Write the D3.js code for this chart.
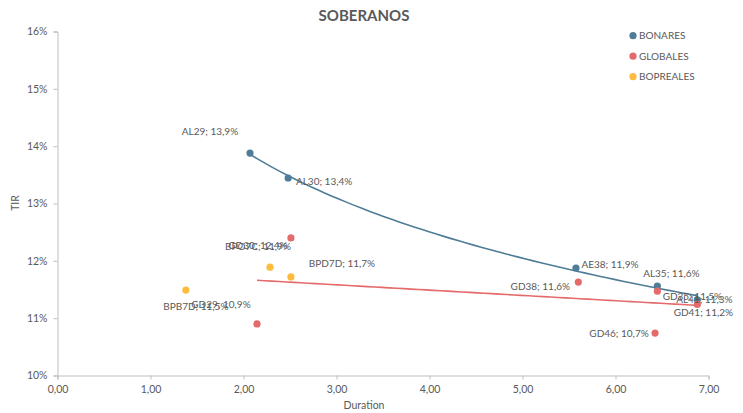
<!DOCTYPE html>
<html>
<head>
<meta charset="utf-8">
<script src="https://cdn.jsdelivr.net/npm/d3@7"></script>
<style>
  html, body { margin: 0; padding: 0; background: #fff; }
  svg { display: block; font-family: Lato, "Open Sans", sans-serif; }
</style>
</head>
<body>
<svg id="chart" width="743" height="413"></svg>
<script>
// ---- Data ----
const bonaresNames = ["AL29", "AL30", "AE38", "AL35", "AL41"];
const bonaresDur   = [2.07, 2.48, 5.575, 6.45, 6.88];
const bonaresTir   = [13.88, 13.445, 11.875, 11.56, 11.32];

const globalesNames = ["GD30", "GD29", "GD38", "GD35", "GD41", "GD46"];
const globalesDur   = [2.51, 2.145, 5.60, 6.45, 6.88, 6.425];
const globalesTir   = [12.40, 10.90, 11.63, 11.47, 11.24, 10.74];

const boprealesNames = ["BPB7D", "BPO7C", "BPD7D"];
const boprealesDur   = [1.38, 2.285, 2.51];
const boprealesTir   = [11.49, 11.89, 11.72];

const xTicks = [0, 1, 2, 3, 4, 5, 6, 7];
const yTicks = [10, 11, 12, 13, 14, 15, 16];

// ---- Layout (label offsets relative to each point: centre dx, dy) ----
const labelOffset = {
  AL29: [-40, -22], AL30: [36, 4], AE38: [34, -4], AL35: [14, -13], AL41: [7, 0],
  GD30: [-33, 8], GD29: [-36, -19], GD38: [-38, 4], GD35: [35, 5], GD41: [6, 8], GD46: [-36, 0],
  BPB7D: [10, 16], BPO7C: [-12, -21], BPD7D: [51, -13]
};

const colors = { BONARES: "#4f7c96", GLOBALES: "#e46b6b", BOPREALES: "#fdbb3f" };
const textColor = "#595959";
const axisColor = "#bfbfbf";

const series = [
  { name: "BONARES", names: bonaresNames, x: bonaresDur, y: bonaresTir, trend: "log" },
  { name: "GLOBALES", names: globalesNames, x: globalesDur, y: globalesTir, trend: "linear" },
  { name: "BOPREALES", names: boprealesNames, x: boprealesDur, y: boprealesTir, trend: null }
];

const svg = d3.select("#chart");
const plotL = 57.5, plotR = 708.5, plotT = 31.5, plotB = 375.5;

const x = d3.scaleLinear().domain([0, 7]).range([plotL, plotR]);
const y = d3.scaleLinear().domain([10, 16]).range([plotB, plotT]);

const fmtX = v => d3.format(".2f")(v).replace(".", ",");
const fmtPct = v => d3.format(".1f")(v).replace(".", ",") + "%";

// Axes
const xAxis = d3.axisBottom(x).tickValues(xTicks).tickFormat(fmtX).tickSize(4).tickPadding(6);
const yAxis = d3.axisLeft(y).tickValues(yTicks).tickFormat(d => d + "%").tickSize(4).tickPadding(6);

const gx = svg.append("g").attr("transform", `translate(0,${plotB})`).call(xAxis);
const gy = svg.append("g").attr("transform", `translate(${plotL},0)`).call(yAxis);
[gx, gy].forEach(g => {
  g.select(".domain").attr("stroke", axisColor);
  g.selectAll(".tick line").attr("stroke", axisColor);
  g.selectAll(".tick text").attr("fill", textColor).style("font-size", "10.5px")
    .style("font-family", "Lato, sans-serif");
});

// Titles
svg.append("text").attr("x", 364).attr("y", 21).attr("text-anchor", "middle")
  .attr("fill", textColor).style("font-size", "15px").style("font-weight", "bold")
  .text("SOBERANOS");
svg.append("text").attr("x", 364).attr("y", 409).attr("text-anchor", "middle")
  .attr("fill", textColor).style("font-size", "10.5px").text("Duration");
svg.append("text").attr("transform", "translate(19,203) rotate(-90)").attr("text-anchor", "middle")
  .attr("fill", textColor).style("font-size", "10.5px").text("TIR");

// Trendlines computed from the data
function fitTrend(xs, ys, type) {
  const tx = type === "log" ? xs.map(Math.log) : xs.slice();
  const mx = d3.mean(tx), my = d3.mean(ys);
  let sxy = 0, sxx = 0;
  tx.forEach((v, i) => { sxy += (v - mx) * (ys[i] - my); sxx += (v - mx) * (v - mx); });
  const b = sxy / sxx, a = my - b * mx;
  return v => a + b * (type === "log" ? Math.log(v) : v);
}
const line = d3.line().x(d => x(d[0])).y(d => y(d[1]));
series.forEach(s => {
  if (!s.trend) return;
  const f = fitTrend(s.x, s.y, s.trend);
  const [x0, x1] = d3.extent(s.x);
  const pts = d3.range(0, 61).map(i => { const v = x0 + (x1 - x0) * i / 60; return [v, f(v)]; });
  svg.append("path").attr("d", line(pts)).attr("fill", "none")
    .attr("stroke", colors[s.name]).attr("stroke-width", 1.6);
});

// Points
series.forEach(s => {
  svg.append("g").selectAll("circle").data(s.x.map((v, i) => i)).join("circle")
    .attr("cx", i => x(s.x[i])).attr("cy", i => y(s.y[i])).attr("r", 3.6)
    .attr("fill", colors[s.name]);
});

// Labels
series.forEach(s => {
  svg.append("g").selectAll("text").data(s.x.map((v, i) => i)).join("text")
    .attr("x", i => x(s.x[i]) + labelOffset[s.names[i]][0])
    .attr("y", i => y(s.y[i]) + labelOffset[s.names[i]][1])
    .attr("dy", "0.35em").attr("text-anchor", "middle")
    .attr("fill", textColor).style("font-size", "10px")
    .text(i => `${s.names[i]}; ${fmtPct(s.y[i])}`);
});

// Legend
const legend = svg.append("g");
series.forEach((s, i) => {
  const ly = 35.7 + i * 20.5;
  legend.append("circle").attr("cx", 633).attr("cy", ly).attr("r", 3.6).attr("fill", colors[s.name]);
  legend.append("text").attr("x", 639).attr("y", ly).attr("dy", "0.35em")
    .attr("fill", textColor).style("font-size", "10px").text(s.name);
});
</script>
</body>
</html>
